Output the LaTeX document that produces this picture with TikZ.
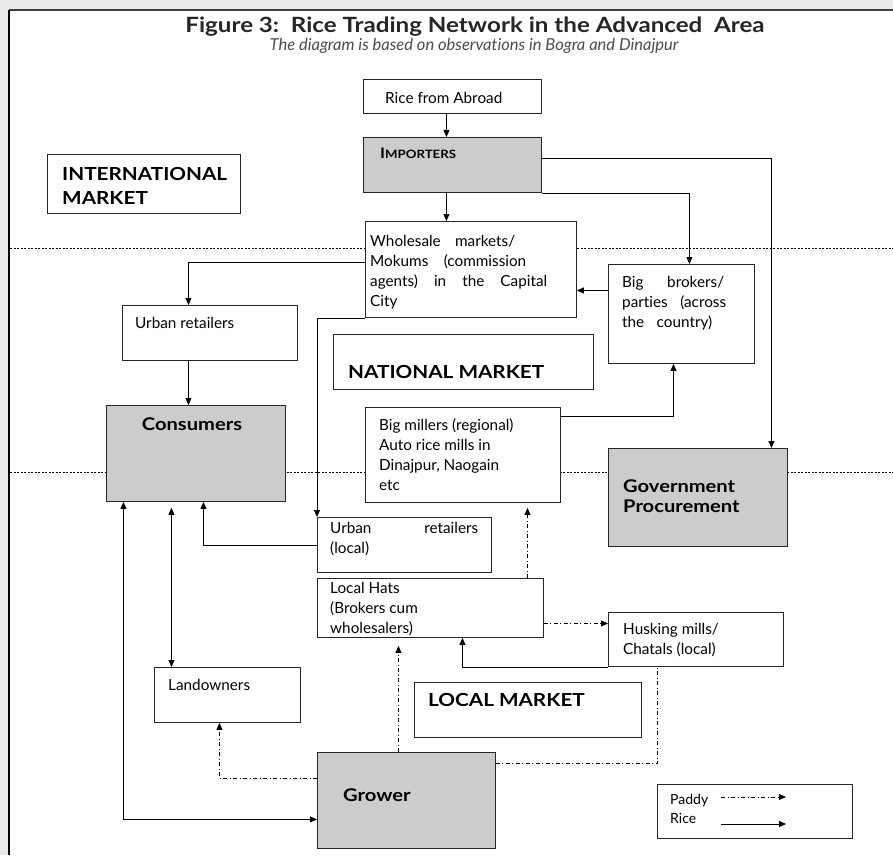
\documentclass[tikz,border=0pt]{standalone}
\usepackage{fontspec}
\setmainfont{Lato}[Ligatures=NoCommon]
\newfontfamily\widefont[FakeStretch=1.15,Ligatures=NoCommon]{Lato}
\usetikzlibrary{arrows.meta}

\newcommand{\bodyfont}{\fontsize{15.3}{20}\selectfont}
\newcommand{\headfont}{\fontsize{17.5}{20}\selectfont\widefont\bfseries}
\newcommand{\zonefont}{\fontsize{18}{24}\selectfont\widefont\bfseries}
\newcommand{\spread}[2]{\makebox[#1][s]{#2}}

\tikzset{
  box/.style={draw=black!85, line width=0.9pt, fill=white, anchor=north west, inner sep=0pt},
  shaded/.style={box, fill=black!20},
  txt/.style={anchor=base west, inner sep=0pt, font=\bodyfont},
  head/.style={txt, font=\headfont},
  zonelabel/.style={txt, font=\zonefont},
  zone/.style={line width=0.6pt, dash pattern=on 2pt off 1.5pt},
  tip/.tip={Triangle[length=7pt,width=6pt]},
  rice/.style={-tip, line width=0.8pt},
  both/.style={tip-tip, line width=0.8pt},
  paddyline/.style={line width=0.8pt, dash pattern=on 4pt off 2.5pt on 1pt off 2.5pt},
  paddy/.style={paddyline, -tip}
}

\begin{document}
\begin{tikzpicture}[x=1pt, y=-1pt]
\useasboundingbox (0,0) rectangle (893,855);
% page and frame
\fill[black!8] (0,0) rectangle (893,855);
\fill[white] (9,10) rectangle (893,855);
\draw[black!75, line width=2.5pt] (9,10) -- (893,10);
\draw[black, line width=1.5pt] (9,10) -- (9,855);

% title
\node[font=\fontsize{21}{22}\selectfont\widefont\bfseries, text=black!85] (title) at (475,27)
  {Figure 3:\ \ Rice Trading Network in the Advanced\ \ Area};
\node[font=\fontsize{16.5}{16}\selectfont\itshape, text=black!70] (subtitle) at (474,46)
  {The diagram is based on observations in Bogra and Dinajpur};

% market borders
\draw[zone] (10,248) -- (893,248);
\draw[zone] (10,472) -- (893,472);

% boxes
\node[box, minimum width=178pt, minimum height=34pt] (abroad) at (363,79) {};
\node[shaded, minimum width=178pt, minimum height=55pt] (importers) at (363,137) {};
\node[box, minimum width=193pt, minimum height=59pt] (intl) at (47,154) {};
\node[box, minimum width=211pt, minimum height=96pt] (ws) at (365,221) {};
\node[box, minimum width=146pt, minimum height=99pt] (brokers) at (608,264) {};
\node[box, minimum width=175pt, minimum height=55pt] (urban) at (122,305) {};
\node[box, minimum width=260pt, minimum height=55pt] (natl) at (333,334) {};
\node[shaded, minimum width=179pt, minimum height=96pt] (consumers) at (106,405) {};
\node[box, minimum width=195pt, minimum height=95pt] (millers) at (365,407) {};
\node[shaded, minimum width=179pt, minimum height=98pt] (govt) at (608,448) {};
\node[box, minimum width=174pt, minimum height=55pt] (urbanl) at (317,517) {};
\node[box, minimum width=226pt, minimum height=59pt] (hats) at (317,578) {};
\node[box, minimum width=175pt, minimum height=54pt] (husk) at (608,612) {};
\node[box, minimum width=146pt, minimum height=55pt] (landown) at (154,667) {};
\node[box, minimum width=227pt, minimum height=55pt] (localm) at (414,682) {};
\node[shaded, minimum width=178pt, minimum height=96pt] (grower) at (317,752) {};
\node[box, minimum width=195pt, minimum height=54pt] (legend) at (657,784) {};

% texts
\node[txt] at ([shift={(22,24)}]abroad.north west) {Rice from Abroad};
\node[txt, font=\widefont\bfseries] at ([shift={(17,21)}]importers.north west)
  {{\fontsize{14.5}{16}\selectfont I}{\fontsize{11.5}{16}\selectfont MPORTERS}};
\node[zonelabel] at ([shift={(15,26)}]intl.north west)
  {\parbox[t]{180pt}{INTERNATIONAL\\MARKET}};
\node[txt] at ([shift={(5,25)}]ws.north west)
  {\parbox[t]{200pt}{\spread{145pt}{Wholesale markets/}\\
   \spread{156pt}{Mokums (commission}\\
   \spread{177pt}{agents) in the Capital}\\City}};
\node[txt] at ([shift={(14,23)}]brokers.north west)
  {\parbox[t]{130pt}{\spread{102pt}{Big brokers/}\\
   \spread{104pt}{parties (across}\\
   \spread{90pt}{the country)}}};
\node[txt] at ([shift={(13,23)}]urban.north west) {Urban retailers};
\node[zonelabel] at ([shift={(15,44)}]natl.north west) {NATIONAL MARKET};
\node[head, anchor=base] at ([shift={(86,25)}]consumers.north west) {Consumers};
\node[txt] at ([shift={(14,23)}]millers.north west)
  {\parbox[t]{180pt}{Big millers (regional)\\Auto rice mills in\\Dinajpur, Naogain\\etc}};
\node[head] at ([shift={(15,44)}]govt.north west)
  {\parbox[t]{160pt}{Government\\Procurement}};
\node[txt] at ([shift={(13,16)}]urbanl.north west)
  {\parbox[t]{160pt}{\spread{148pt}{Urban retailers}\\(local)}};
\node[txt] at ([shift={(13,15)}]hats.north west)
  {\parbox[t]{200pt}{Local Hats\\(Brokers cum\\wholesalers)}};
\node[txt] at ([shift={(15,22)}]husk.north west)
  {\parbox[t]{160pt}{Husking mills/\\Chatals (local)}};
\node[txt] at ([shift={(14,23)}]landown.north west) {Landowners};
\node[zonelabel] at ([shift={(14,24)}]localm.north west) {LOCAL MARKET};
\node[head] at ([shift={(26,49)}]grower.north west) {Grower};
\node[txt, font=\fontsize{14}{19}\selectfont] at ([shift={(13,20)}]legend.north west)
  {\parbox[t]{60pt}{Paddy\\Rice}};

% rice flows
\draw[rice] ([xshift=-6pt]abroad.south) -- ([xshift=-6pt]importers.north);
\draw[rice] ([xshift=-6pt]importers.south) -- ([xshift=-6pt]importers.south |- ws.north);
\draw[rice] (importers.south east) -| ([xshift=8pt]brokers.north);
\draw[rice] ([yshift=7pt]importers.east) -| ([xshift=73.5pt]govt.north);
\draw[rice] ([yshift=23.5pt]brokers.west) -- ([yshift=23.5pt]brokers.west -| ws.east);
\draw[rice] ([yshift=-9pt]millers.north east) -| ([xshift=-8pt]brokers.south);
\draw[rice] ([yshift=7pt]ws.west) -| ([xshift=-21.5pt]urban.north);
\draw[rice] ([xshift=-21.5pt]urban.south) -- ([xshift=-21.5pt]urban.south |- consumers.north);
\draw[rice] (ws.south west) -| (urbanl.north west);
\draw[rice] (urbanl.west) -| ([xshift=7.5pt]consumers.south);
\draw[both, shorten >=6pt] ([xshift=-56pt]landown.north) -- ([xshift=-56pt]landown.north |- consumers.south);
\draw[both] ([xshift=-72.5pt]consumers.south) |- ([yshift=-19pt]grower.west);
\draw[rice] (husk.south west) -| ([xshift=32pt]hats.south);

% paddy flows
\draw[paddy] ([yshift=22pt]grower.west) -| ([xshift=-8pt]landown.south);
\draw[paddy, shorten >=8pt] ([xshift=-8pt]grower.north) -- ([xshift=-8pt]grower.north |- hats.south);
\draw[paddy, shorten >=5pt] ([xshift=97pt]hats.north) -- ([xshift=97pt]hats.north |- millers.south);
\draw[paddy] ([yshift=-15.5pt]hats.east) -- ([yshift=-15.5pt]hats.east -| husk.west);
\draw[paddyline] ([yshift=37pt]grower.east) -| ([xshift=-38.5pt]husk.south);

% legend keys
\coordinate (paddyA) at ([shift={(64,13)}]legend.north west);
\coordinate (paddyB) at ([shift={(129,13)}]legend.north west);
\coordinate (riceA) at ([shift={(64,40)}]legend.north west);
\coordinate (riceB) at ([shift={(129,40)}]legend.north west);
\draw[paddy] (paddyA) -- (paddyB);
\draw[rice] (riceA) -- (riceB);
\end{tikzpicture}
\end{document}
